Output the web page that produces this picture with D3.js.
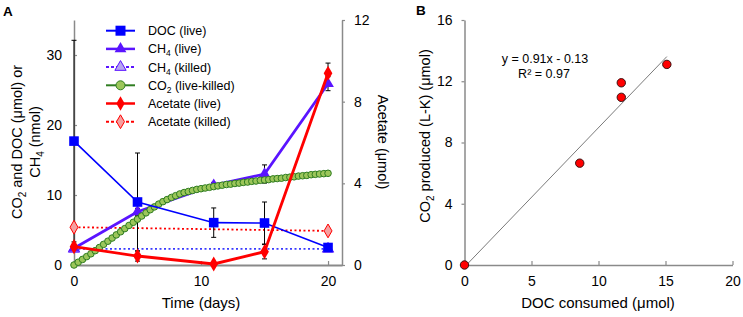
<!DOCTYPE html>
<html><head><meta charset="utf-8">
<script src="https://cdn.jsdelivr.net/npm/d3@7/dist/d3.min.js"></script>
<style>
body{margin:0;background:#fff;}
svg{font-family:"Liberation Sans",Arial,sans-serif;}
</style></head>
<body><svg id="c" width="743" height="317"></svg>
<script>
// ---- Panel A data ----
const days = [0, 5, 11, 15, 20];
const docLive = [17.7, 9.0, 6.05, 6.0, 2.5];
const docErr = [14.4, 7.0, 2.1, 3.0, 0.3];
const ch4Live = [2.4, 7.6, 11.4, 13.0, 25.9];
const ch4Err = [0.3, 0.5, 0.4, 1.3, 1.0];
const ch4KilledDays = [0, 20];
const ch4Killed = [2.3, 2.3];
const acetateLive = [0.9, 0.44, 0.05, 0.65, 9.39];
const acetateErr = [0.1, 0.25, 0.05, 0.35, 0.5];
const acetateKilledDays = [0, 20];
const acetateKilled = [1.85, 1.67];
const co2Days = [0,0.33,0.67,1,1.33,1.67,2,2.33,2.67,3,3.33,3.67,4,4.33,4.67,5,5.33,5.67,6,6.33,6.67,7,7.33,7.67,8,8.33,8.67,9,9.33,9.67,10,10.33,10.67,11,11.33,11.67,12,12.33,12.67,13,13.33,13.67,14,14.33,14.67,15,15.33,15.67,16,16.33,16.67,17,17.33,17.67,18,18.33,18.67,19,19.33,19.67,20];
const co2LiveKilled = [0,0.4,0.8,1.2,1.6,2.05,2.5,2.95,3.4,3.85,4.3,4.75,5.2,5.65,6.1,6.55,7.0,7.45,7.9,8.3,8.7,9.05,9.35,9.65,9.9,10.15,10.35,10.5,10.65,10.8,10.9,11.0,11.1,11.2,11.3,11.4,11.5,11.55,11.65,11.7,11.8,11.85,11.95,12.0,12.1,12.15,12.2,12.3,12.35,12.4,12.5,12.55,12.6,12.7,12.75,12.8,12.9,12.95,13.0,13.05,13.1];
const ticksA_x = [0, 10, 20];
const ticksA_left = [0, 10, 20, 30];
const ticksA_right = [0, 4, 8, 12];
// ---- Panel B data ----
const docConsumed = [0, 8.6, 11.7, 11.7, 15.1];
const co2Produced = [0, 6.65, 10.95, 11.9, 13.1];
const fitSlope = 0.91, fitIntercept = -0.13;
const fitRange = [0.14, 15.1];
const ticksB_x = [0, 5, 10, 15, 20];
const ticksB_y = [0, 4, 8, 12, 16];

const svg = d3.select("#c");
const AX = "#8a8a8a";

// ---- Scales ----
const xA = d3.scaleLinear().domain([0, 21.1]).range([74, 342]);
const yA = d3.scaleLinear().domain([0, 35]).range([265, 20]);
const yR = d3.scaleLinear().domain([0, 12]).range([265, 20]);
const xB = d3.scaleLinear().domain([0, 20]).range([464.5, 732.5]);
const yB = d3.scaleLinear().domain([0, 16]).range([265, 20]);

function styleAxis(g){
  g.select(".domain").attr("stroke", AX).attr("stroke-width", 1.5);
  g.selectAll(".tick line").attr("stroke", AX).attr("stroke-width", 1.2);
  g.selectAll(".tick text").attr("font-size", 14).attr("fill", "#000")
    .attr("font-family", "Liberation Sans, Arial, sans-serif");
}

// Panel A axes
svg.append("g").attr("transform", "translate(0,265)")
  .call(d3.axisBottom(xA).tickValues(ticksA_x).tickSizeInner(-4).tickSizeOuter(0).tickPadding(11))
  .call(styleAxis).call(g => g.select(".domain").attr("stroke-width", 2.2));
svg.append("g").attr("transform", "translate(74,0)")
  .call(d3.axisLeft(yA).tickValues(ticksA_left).tickSizeInner(-3).tickSizeOuter(0).tickPadding(12))
  .call(styleAxis);
svg.append("g").attr("transform", "translate(342,0)")
  .call(d3.axisRight(yR).tickValues(ticksA_right).tickSizeInner(3).tickSizeOuter(0).tickPadding(9))
  .call(styleAxis);

// Panel B axes
svg.append("g").attr("transform", "translate(0,265)")
  .call(d3.axisBottom(xB).tickValues(ticksB_x).tickSizeInner(-4).tickSizeOuter(0).tickPadding(11))
  .call(styleAxis);
svg.append("g").attr("transform", "translate(464.5,0)")
  .call(d3.axisLeft(yB).tickValues(ticksB_y).tickSizeInner(3).tickSizeOuter(0).tickPadding(9))
  .call(styleAxis);

// ---- Panel A marks ----
const gA = svg.append("g");
const line = (xs, ys, sx, sy) => d3.line()(xs.map((d, i) => [sx(d), sy(ys[i])]));

const C = {
  doc: "#0000ff", ch4: "#5a14ff", ch4k: "#3a3aff", ch4kFill: "#b7a6f0",
  co2Line: "#2f7d21", co2Fill: "#9cc65a", co2Stroke: "#2f7d21",
  ace: "#ff0000", aceKFill: "#f5a0a0"
};

// killed dotted lines
gA.append("path").attr("d", line(ch4KilledDays, ch4Killed, xA, yA))
  .attr("fill", "none").attr("stroke", C.ch4k).attr("stroke-width", 1.8).attr("stroke-dasharray", "2,2.5");
gA.append("path").attr("d", line(acetateKilledDays, acetateKilled, xA, yR))
  .attr("fill", "none").attr("stroke", C.ace).attr("stroke-width", 1.8).attr("stroke-dasharray", "2,2.5");

// error bars
function errBars(xs, ys, es, sy){
  xs.forEach((d, i) => {
    const x = xA(d), y1 = sy(ys[i] + es[i]), y2 = sy(Math.max(0, ys[i] - es[i]));
    gA.append("line").attr("x1", x).attr("x2", x).attr("y1", y1).attr("y2", y2).attr("stroke", "#000").attr("stroke-width", 1);
    [y1, y2].forEach(y => gA.append("line").attr("x1", x - 2.5).attr("x2", x + 2.5).attr("y1", y).attr("y2", y).attr("stroke", "#000").attr("stroke-width", 1));
  });
}
errBars(days, docLive, docErr, yA);
errBars(days, ch4Live, ch4Err, yA);
errBars(days, acetateLive, acetateErr, yR);

const sym = (type, size) => d3.symbol().type(type).size(size)();

// killed markers
ch4KilledDays.forEach((d, i) => gA.append("path").attr("d", sym(d3.symbolTriangle, 55))
  .attr("transform", `translate(${xA(d)},${yA(ch4Killed[i])})`).attr("fill", C.ch4kFill).attr("stroke", C.ch4).attr("stroke-width", 1));
acetateKilledDays.forEach((d, i) => gA.append("path").attr("d", sym(d3.symbolDiamond, 55))
  .attr("transform", `translate(${xA(d)},${yR(acetateKilled[i])})`).attr("fill", C.aceKFill).attr("stroke", C.ace).attr("stroke-width", 1));

// CH4 live
gA.append("path").attr("d", line(days, ch4Live, xA, yA)).attr("fill", "none").attr("stroke", C.ch4).attr("stroke-width", 2.8);
days.forEach((d, i) => gA.append("path").attr("d", sym(d3.symbolTriangle, 60))
  .attr("transform", `translate(${xA(d)},${yA(ch4Live[i])})`).attr("fill", C.ch4));

// CO2
gA.append("path").attr("d", line(co2Days, co2LiveKilled, xA, yA)).attr("fill", "none").attr("stroke", C.co2Line).attr("stroke-width", 1.5);
co2Days.forEach((d, i) => gA.append("circle").attr("cx", xA(d)).attr("cy", yA(co2LiveKilled[i])).attr("r", 3.3)
  .attr("fill", C.co2Fill).attr("stroke", C.co2Stroke).attr("stroke-width", 1));

// DOC
gA.append("path").attr("d", line(days, docLive, xA, yA)).attr("fill", "none").attr("stroke", C.doc).attr("stroke-width", 1.6);
days.forEach((d, i) => gA.append("rect").attr("x", xA(d) - 4.8).attr("y", yA(docLive[i]) - 4.8).attr("width", 9.6).attr("height", 9.6).attr("fill", C.doc));

// Acetate live
gA.append("path").attr("d", line(days, acetateLive, xA, yR)).attr("fill", "none").attr("stroke", C.ace).attr("stroke-width", 2.8);
days.forEach((d, i) => gA.append("path").attr("d", sym(d3.symbolDiamond, 65))
  .attr("transform", `translate(${xA(d)},${yR(acetateLive[i])})`).attr("fill", C.ace));

// ---- Legend ----
const legendItems = [
  {t: ["DOC (live)"], c: C.doc, dash: null, w: 2, m: "sq"},
  {t: ["CH", "4", " (live)"], c: C.ch4, dash: null, w: 2.5, m: "tri"},
  {t: ["CH", "4", " (killed)"], c: C.ch4, dash: "3,2", w: 2, m: "triK"},
  {t: ["CO", "2", " (live-killed)"], c: C.co2Line, dash: null, w: 2, m: "circ"},
  {t: ["Acetate (live)"], c: C.ace, dash: null, w: 2.5, m: "dia"},
  {t: ["Acetate (killed)"], c: C.ace, dash: "3,2", w: 2, m: "diaK"}
];
const legY0 = 30.7, legDy = 18.2;
legendItems.forEach((it, i) => {
  const y = legY0 + i * legDy;
  gA.append("line").attr("x1", 106).attr("x2", 135).attr("y1", y).attr("y2", y)
    .attr("stroke", it.c).attr("stroke-width", it.w).attr("stroke-dasharray", it.dash);
  const cx = 120.5;
  if (it.m === "sq") gA.append("rect").attr("x", cx - 5).attr("y", y - 5).attr("width", 10).attr("height", 10).attr("fill", C.doc);
  if (it.m === "tri") gA.append("path").attr("d", sym(d3.symbolTriangle, 60)).attr("transform", `translate(${cx},${y})`).attr("fill", C.ch4);
  if (it.m === "triK") gA.append("path").attr("d", sym(d3.symbolTriangle, 55)).attr("transform", `translate(${cx},${y})`).attr("fill", C.ch4kFill).attr("stroke", C.ch4);
  if (it.m === "circ") gA.append("circle").attr("cx", cx).attr("cy", y).attr("r", 4.5).attr("fill", C.co2Fill).attr("stroke", C.co2Stroke);
  if (it.m === "dia") gA.append("path").attr("d", sym(d3.symbolDiamond, 60)).attr("transform", `translate(${cx},${y})`).attr("fill", C.ace);
  if (it.m === "diaK") gA.append("path").attr("d", sym(d3.symbolDiamond, 55)).attr("transform", `translate(${cx},${y})`).attr("fill", C.aceKFill).attr("stroke", C.ace);
  const tx = gA.append("text").attr("x", 148).attr("y", y + 4.5).attr("font-size", 12.5).attr("fill", "#000");
  if (it.t.length === 1) tx.text(it.t[0]);
  else {
    tx.append("tspan").text(it.t[0]);
    tx.append("tspan").attr("font-size", 8.5).attr("dy", 3).text(it.t[1]);
    tx.append("tspan").attr("dy", -3).text(it.t[2]);
  }
});

// ---- Panel A titles ----
svg.append("text").attr("x", 3).attr("y", 16).attr("font-weight", "bold").attr("font-size", 13.5).text("A");
const lt1 = svg.append("text").attr("transform", "translate(22,142) rotate(-90)").attr("text-anchor", "middle").attr("font-size", 14.5);
lt1.append("tspan").text("CO");
lt1.append("tspan").attr("font-size", 10).attr("dy", 4).text("2");
lt1.append("tspan").attr("dy", -4).text(" and DOC (μmol) or");
const lt2 = svg.append("text").attr("transform", "translate(40,142) rotate(-90)").attr("text-anchor", "middle").attr("font-size", 14.5);
lt2.append("tspan").text("CH");
lt2.append("tspan").attr("font-size", 10).attr("dy", 4).text("4");
lt2.append("tspan").attr("dy", -4).text(" (nmol)");
svg.append("text").attr("transform", "translate(378,142) rotate(90)").attr("text-anchor", "middle").attr("font-size", 14.5).text("Acetate  (μmol)");
svg.append("text").attr("x", 201).attr("y", 308).attr("text-anchor", "middle").attr("font-size", 15).text("Time (days)");

// ---- Panel B marks ----
const gB = svg.append("g");
gB.append("line").attr("x1", xB(fitRange[0])).attr("y1", yB(fitSlope * fitRange[0] + fitIntercept))
  .attr("x2", xB(fitRange[1])).attr("y2", yB(fitSlope * fitRange[1] + fitIntercept))
  .attr("stroke", "#7a7a7a").attr("stroke-width", 1);
docConsumed.forEach((d, i) => gB.append("circle").attr("cx", xB(d)).attr("cy", yB(co2Produced[i])).attr("r", 4.2)
  .attr("fill", "#ff0000").attr("stroke", "#3a1010").attr("stroke-width", 1));
gB.append("text").attr("x", 545).attr("y", 63).attr("text-anchor", "middle").attr("font-size", 12.5).text("y = 0.91x - 0.13");
gB.append("text").attr("x", 544).attr("y", 77.5).attr("text-anchor", "middle").attr("font-size", 12.5).text("R² = 0.97");

svg.append("text").attr("x", 416).attr("y", 15).attr("font-weight", "bold").attr("font-size", 13.5).text("B");
svg.append("text").attr("x", 598).attr("y", 308).attr("text-anchor", "middle").attr("font-size", 15).text("DOC consumed  (μmol)");
const bt = svg.append("text").attr("transform", "translate(430,136) rotate(-90)").attr("text-anchor", "middle").attr("font-size", 14.5);
bt.append("tspan").text("CO");
bt.append("tspan").attr("font-size", 10).attr("dy", 4).text("2");
bt.append("tspan").attr("dy", -4).text(" produced  (L-K) (μmol)");
</script></body></html>
